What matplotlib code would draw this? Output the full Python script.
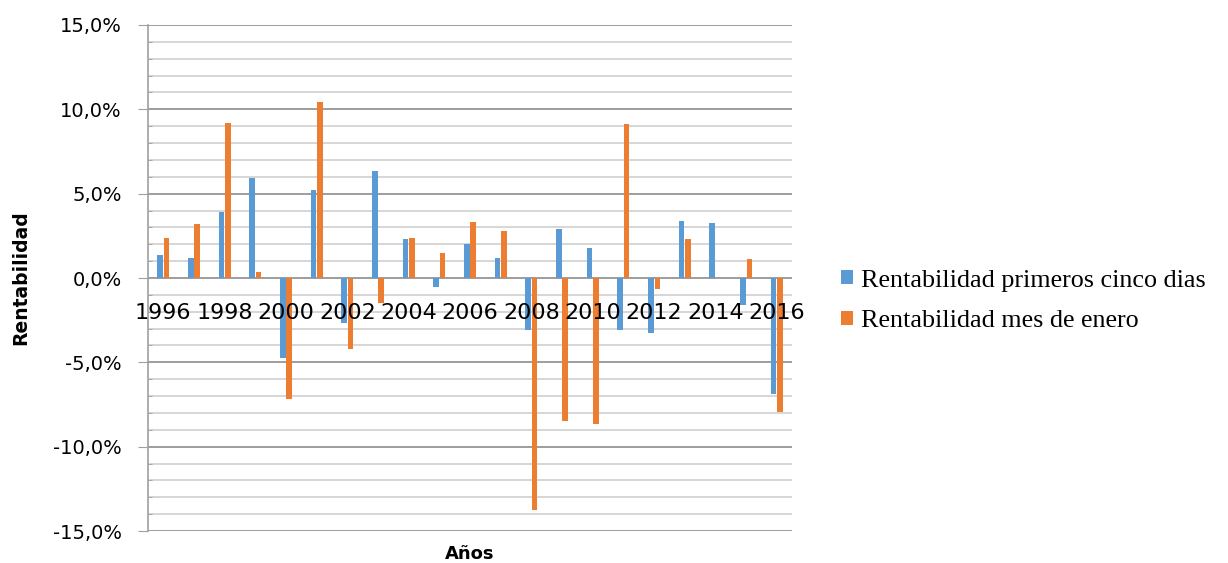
import numpy as np
import matplotlib.pyplot as plt
from matplotlib.ticker import MultipleLocator, FuncFormatter

years = list(range(1996, 2017))
# rentabilidad (%)
primeros_cinco = [1.39, 1.21, 3.91, 5.93, -4.72, 5.20, -2.64, 6.33, 2.32, -0.56, 2.04,
                  1.19, -3.10, 2.88, 1.79, -3.06, -3.27, 3.37, 3.29, -1.59, -6.87]
mes_enero = [2.40, 3.23, 9.19, 0.36, -7.16, 10.44, -4.19, -1.49, 2.40, 1.51, 3.33,
             2.78, -13.77, -8.45, -8.65, 9.13, -0.63, 2.32, 0.0, 1.15, -7.96]

blue = "#5B9BD5"
orange = "#ED7D31"

fig = plt.figure(figsize=(12.28, 5.63), dpi=100)
ax = fig.add_axes([0.1205, 0.0568, 0.5245, 0.8988])

x = np.arange(len(years))
w = 0.18
ax.bar(x - 0.105, primeros_cinco, w, color=blue, linewidth=0,
       label="Rentabilidad primeros cinco dias", zorder=3)
ax.bar(x + 0.105, mes_enero, w, color=orange, linewidth=0,
       label="Rentabilidad mes de enero", zorder=3)

ax.set_xlim(-0.5, len(years) - 0.5)
ax.set_ylim(-15, 15)
ax.yaxis.set_major_locator(MultipleLocator(5))
ax.yaxis.set_minor_locator(MultipleLocator(1))
ax.yaxis.set_major_formatter(FuncFormatter(lambda v, p: f"{v:.1f}%".replace(".", ",")))
ax.grid(which="major", axis="y", color="#8c8c8c", linewidth=1.2, zorder=0)
ax.grid(which="minor", axis="y", color="#d0d0d0", linewidth=1.2, zorder=0)

for s in ["top", "right", "bottom"]:
    ax.spines[s].set_visible(False)
ax.spines["left"].set_color("#a0a0a0")
ax.spines["left"].set_linewidth(1.2)
ax.tick_params(axis="y", which="major", direction="out", length=7, color="#a0a0a0",
               labelsize=14, pad=12)
ax.tick_params(axis="y", which="minor", direction="in", length=3, color="#a0a0a0")

ax.set_xticks([])
for i in range(0, len(years), 2):
    ax.annotate(str(years[i]), xy=(x[i], 0), xytext=(0, -25), textcoords="offset points",
                ha="center", va="center", fontsize=16, zorder=4)

ax.set_ylabel("Rentabilidad", fontsize=13.5, fontweight="bold", labelpad=16)
ax.set_xlabel("Años", fontsize=13, fontweight="bold", labelpad=10)

ax.legend(loc="center left", bbox_to_anchor=(1.04, 0.455), frameon=False,
          prop={"family": "Liberation Serif", "size": 18.8}, handlelength=0.45,
          handleheight=0.45, handletextpad=0.3, labelspacing=0.7)

fig.savefig("out.png", dpi=100)
